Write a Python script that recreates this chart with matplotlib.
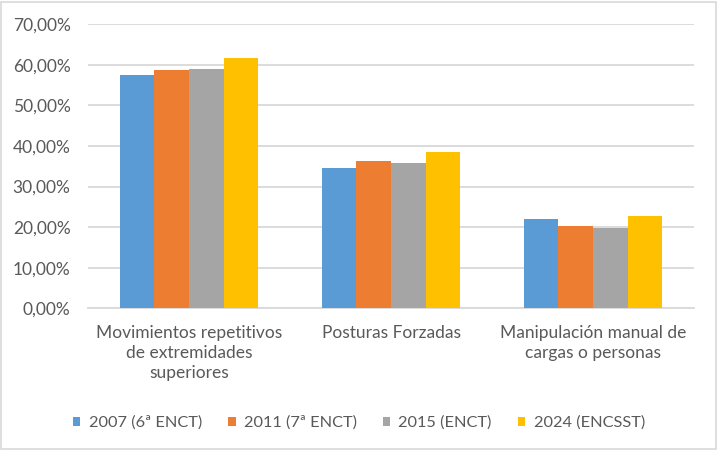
import matplotlib
matplotlib.use('Agg')
import matplotlib.pyplot as plt
from matplotlib.patches import Rectangle
import numpy as np

categories = ['Movimientos repetitivos\nde extremidades\nsuperiores',
              'Posturas Forzadas',
              'Manipulación manual de\ncargas o personas']
series_names = ['2007 (6ª ENCT)', '2011 (7ª ENCT)', '2015 (ENCT)', '2024 (ENCSST)']
v2007 = [0.574, 0.346, 0.219]
v2011 = [0.587, 0.363, 0.204]
v2015 = [0.589, 0.359, 0.198]
v2024 = [0.616, 0.385, 0.227]
colors = ['#5B9BD5', '#ED7D31', '#A5A5A5', '#FFC000']
yticks = [0.0, 0.1, 0.2, 0.3, 0.4, 0.5, 0.6, 0.7]

plt.rcParams['font.family'] = ['Lato', 'DejaVu Sans']
txt = '#595959'

fig = plt.figure(figsize=(7.18, 4.5), dpi=100)
ax = fig.add_axes([88/718, 1-308.3/450, (694-88)/718, (308.3-24.3)/450])

x = np.arange(len(categories))
w = 0.172
for i, (vals, c, name) in enumerate(zip([v2007, v2011, v2015, v2024], colors, series_names)):
    ax.bar(x + (i - 1.5) * w, vals, width=w, color=c, label=name, zorder=3)

ax.set_xlim(-0.5, 2.5)
ax.set_ylim(0, 0.7)
ax.set_yticks(yticks)
ax.set_yticklabels([f'{t*100:.2f}%'.replace('.', ',') for t in yticks], fontsize=12.5, color=txt)
ax.set_xticks(x)
ax.set_xticklabels(categories, fontsize=12.5, color=txt, linespacing=1.3, va='top')
ax.tick_params(axis='both', length=0)
ax.tick_params(axis='y', pad=12.5)
ax.tick_params(axis='x', pad=12)
ax.grid(axis='y', color='#D9D9D9', linewidth=1.3, zorder=0)
for s in ['top', 'right', 'left']:
    ax.spines[s].set_visible(False)
ax.spines['bottom'].set_color('#D9D9D9')
ax.spines['bottom'].set_linewidth(1.3)

fig.legend(loc='center', bbox_to_anchor=(0.5, 1-423/450), ncol=4, frameon=False,
           fontsize=11.8, labelcolor=txt, handlelength=0.45, handleheight=0.45,
           handletextpad=0.5, columnspacing=1.6)

fig.patches.append(Rectangle((0.002, 0.003), 0.995, 0.993, transform=fig.transFigure,
                             fill=False, edgecolor='#D9D9D9', linewidth=1.2))

fig.savefig('out.png', dpi=100)
